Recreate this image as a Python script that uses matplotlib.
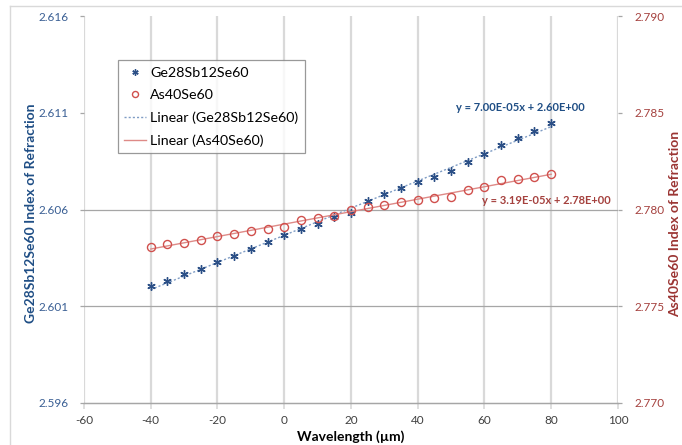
import numpy as np
import matplotlib.pyplot as plt
from matplotlib.lines import Line2D

plt.rcParams['font.family'] = ['Lato', 'DejaVu Sans']
plt.rcParams['axes.unicode_minus'] = False

# wavelength (x axis) shared by both series
wavelength = [-40, -35, -30, -25, -20, -15, -10, -5, 0, 5, 10, 15, 20,
              25, 30, 35, 40, 45, 50, 55, 60, 65, 70, 75, 80]

# Ge28Sb12Se60, left axis
ge_index = [2.60205, 2.60232, 2.60265, 2.60291, 2.60327, 2.60360, 2.60394,
            2.60430, 2.60470, 2.60498, 2.60525, 2.60560, 2.60584, 2.60642,
            2.60679, 2.60711, 2.60741, 2.60770, 2.60801, 2.60847, 2.60885,
            2.60935, 2.60971, 2.61006, 2.61049]

# As40Se60, right axis
as_index = [2.77808, 2.77820, 2.77828, 2.77842, 2.77861, 2.77872, 2.77890,
            2.77899, 2.77911, 2.77946, 2.77958, 2.77968, 2.77997, 2.78011,
            2.78023, 2.78037, 2.78048, 2.78059, 2.78066, 2.78101, 2.78115,
            2.78152, 2.78158, 2.78170, 2.78183]

ge_eq = 'y = 7.00E-05x + 2.60E+00'
as_eq = 'y = 3.19E-05x + 2.78E+00'

blue_dark = '#2B4F86'
blue_light = '#7F9CC4'
red = '#D0504D'
red_light = '#DE8A87'
grid_light = '#D9D9D9'
grid_dark = '#A6A6A6'
text_grey = '#404040'

fig = plt.figure(figsize=(6.82, 4.45), dpi=100)
fig.subplots_adjust(left=0.1232, right=0.906, top=0.964, bottom=0.0944)
ax = fig.add_subplot(111)
ax2 = ax.twinx()

# chart border (only top/left visible in the picture)
fig.add_artist(Line2D([10 / 682, 10 / 682], [0, 1 - 6 / 445], transform=fig.transFigure,
                      color=grid_light, lw=1))
fig.add_artist(Line2D([10 / 682, 1], [1 - 6 / 445, 1 - 6 / 445], transform=fig.transFigure,
                      color=grid_light, lw=1))

x = np.array(wavelength)
ge = np.array(ge_index)
asv = np.array(as_index)

# linear trendlines
ge_fit = np.polyfit(x, ge, 1)
as_fit = np.polyfit(x, asv, 1)
xs = np.array([x.min(), x.max()])

ax.plot(xs, np.polyval(ge_fit, xs), ls=(0, (1.5, 1.5)), color=blue_light, lw=1,
        label='Linear (Ge28Sb12Se60)', zorder=3)
ax.plot(x, ge, ls='none', marker=(6, 2, 0), ms=6, mew=1.0, color=blue_dark,
        label='Ge28Sb12Se60', zorder=4)

ax2.plot(xs, np.polyval(as_fit, xs), ls='-', color=red_light, lw=1,
         label='Linear (As40Se60)', zorder=3)
ax2.plot(x, asv, ls='none', marker='o', ms=5.8, mfc='none', mec=red, mew=1,
         label='As40Se60', zorder=4)

ax.set_xlim(-60, 100)
ax.set_ylim(2.596, 2.616)
ax2.set_ylim(2.770, 2.790)
ax.set_xticks(np.arange(-60, 101, 20))
ax.set_yticks(np.arange(2.596, 2.6161, 0.005))
ax2.set_yticks(np.arange(2.770, 2.7901, 0.005))
ax.yaxis.set_major_formatter(plt.FormatStrFormatter('%.3f'))
ax2.yaxis.set_major_formatter(plt.FormatStrFormatter('%.3f'))

# grid: light vertical lines, darker horizontal lines
ax.set_axisbelow(True)
ax.xaxis.grid(True, color=grid_light, lw=1.6)
ax.yaxis.grid(True, color=grid_dark, lw=0.9)
for val, gl in zip(ax.get_yticks(), ax.get_ygridlines()):
    if val > 2.607 or val < 2.597:
        gl.set_visible(False)

for a in (ax, ax2):
    for side in ('left', 'right', 'top'):
        a.spines[side].set_visible(False)
    a.spines['bottom'].set_color(grid_dark)
    a.spines['bottom'].set_linewidth(0.9)

ax.tick_params(axis='x', colors=grid_light, length=4, width=1.2, labelcolor=text_grey,
               labelsize=8.5, pad=5)
ax.tick_params(axis='y', colors=grid_dark, length=3, width=0.9, labelcolor='#3A5F94',
               labelsize=8.5, pad=8)
ax2.tick_params(axis='y', colors=grid_dark, length=3, width=0.9, labelcolor='#A5413E',
                labelsize=8.5, pad=9)

ax.set_xlabel('Wavelength (\u00b5m)', fontsize=10, fontweight='bold', color='black')
ax.xaxis.set_label_coords(0.5, -0.07)
ax.set_ylabel('Ge28Sb12Se60 Index of Refraction', fontsize=10, fontweight='bold',
              color='#1F4E85')
ax.yaxis.set_label_coords(-0.088, 0.49)
ax2.set_ylabel('As40Se60 Index of Refraction', fontsize=10, fontweight='bold',
               color='#9B3533')
ax2.yaxis.set_label_coords(1.0955, 0.4625)

# trendline equations
ax.text(70.7, 2.61125, ge_eq, ha='center', va='center', fontsize=8,
        fontweight='bold', color='#1F4E85', zorder=5)
ax.text(78.6, 2.60649, as_eq, ha='center', va='center', fontsize=8,
        fontweight='bold', color='#A5413E', zorder=5)

h1, l1 = ax.get_legend_handles_labels()
h2, l2 = ax2.get_legend_handles_labels()
handles = [h1[1], h2[1], h1[0], h2[0]]
labels = [l1[1], l2[1], l1[0], l2[0]]
leg = ax2.legend(handles, labels, loc='upper left', bbox_to_anchor=(0.0637, 0.886),
                 borderaxespad=0, fontsize=10.3, frameon=True, fancybox=False,
                 handlelength=1.5, handletextpad=0.3, labelspacing=0.72,
                 borderpad=0.45, markerscale=0.75)
leg.get_frame().set_edgecolor('#808080')
leg.get_frame().set_linewidth(0.9)
for t in leg.get_texts():
    t.set_color('black')

fig.savefig('out.png', dpi=100)
